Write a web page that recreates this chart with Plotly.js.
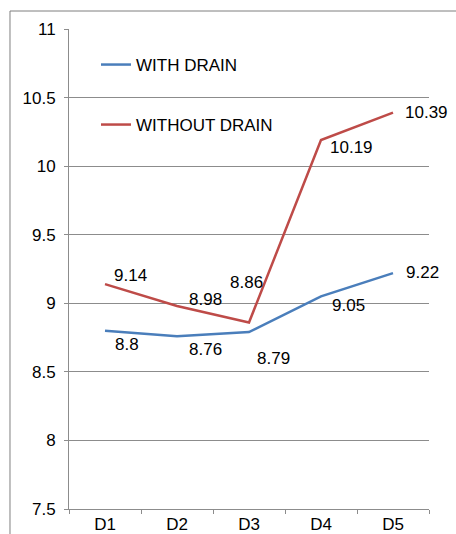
<!DOCTYPE html>
<html>
<head>
<meta charset="utf-8">
<script src="https://cdn.plot.ly/plotly-3.0.1.min.js"></script>
<style>html,body{margin:0;padding:0;background:#fff;}#chart{width:456px;height:534px;}</style>
</head>
<body>
<div id="chart"></div>
<script>
const categories = ["D1", "D2", "D3", "D4", "D5"];
const withDrain = [8.8, 8.76, 8.79, 9.05, 9.22];
const withoutDrain = [9.14, 8.98, 8.86, 10.19, 10.39];
const seriesNames = ["WITH DRAIN", "WITHOUT DRAIN"];

// label offsets (pixels) from each point, style only
const withShift = [[22, -14], [28, -13], [24, -26], [27, -9], [29, 1]];
const withoutShift = [[25, 9], [28, 7], [-3, 40], [30, -7], [33, 0]];

const FONT = "Liberation Sans, Arial, sans-serif";
const blue = "#4a7ebb";
const red = "#be4b48";

const traces = [
  {x: categories, y: withDrain, name: seriesNames[0], type: "scatter", mode: "lines",
   line: {color: blue, width: 2.5}, legend: "legend"},
  {x: categories, y: withoutDrain, name: seriesNames[1], type: "scatter", mode: "lines",
   line: {color: red, width: 2.5}, legend: "legend2"}
];

const annotations = [];
function addLabels(vals, shifts) {
  vals.forEach((v, i) => {
    annotations.push({x: categories[i], y: v, xref: "x", yref: "y", text: String(v),
      showarrow: false, xshift: shifts[i][0], yshift: shifts[i][1],
      font: {family: FONT, size: 17, color: "#000"}});
  });
}
addLabels(withDrain, withShift);
addLabels(withoutDrain, withoutShift);

const layout = {
  width: 456, height: 534,
  margin: {l: 69, r: 27, t: 29, b: 25, pad: 0},
  paper_bgcolor: "#fff", plot_bgcolor: "#fff",
  font: {family: FONT, size: 17, color: "#000"},
  showlegend: true,
  legend: {x: 0.075, y: 0.925, xanchor: "left", yanchor: "middle", bgcolor: "rgba(0,0,0,0)",
    font: {family: FONT, size: 17, color: "#000"}},
  legend2: {x: 0.075, y: 0.80, xanchor: "left", yanchor: "middle", bgcolor: "rgba(0,0,0,0)",
    font: {family: FONT, size: 17, color: "#000"}},
  xaxis: {type: "category", range: [-0.5, 4.5], showline: true, linecolor: "#8c8c8c", linewidth: 1,
    ticks: "outside", tickson: "boundaries", ticklen: 4, tickcolor: "#8c8c8c",
    showgrid: false, zeroline: false, fixedrange: true,
    tickfont: {family: FONT, size: 17, color: "#000"}},
  yaxis: {range: [7.5, 11], dtick: 0.5, tick0: 7.5, showline: true, linecolor: "#8c8c8c", linewidth: 1,
    ticks: "outside", ticklen: 4, tickcolor: "#8c8c8c", ticklabelstandoff: 5,
    showgrid: true, gridcolor: "#8c8c8c", gridwidth: 1, zeroline: false, fixedrange: true,
    tickfont: {family: FONT, size: 17, color: "#000"}},
  shapes: [
    {type: "rect", xref: "paper", yref: "paper", x0: -0.1639, x1: 1.5, y0: -0.5, y1: 1.0375,
     line: {color: "#7f7f7f", width: 1}, fillcolor: "rgba(0,0,0,0)", layer: "below"}
  ],
  annotations: annotations,
  hovermode: false
};

Plotly.newPlot("chart", traces, layout, {displayModeBar: false, staticPlot: true});
</script>
</body>
</html>
